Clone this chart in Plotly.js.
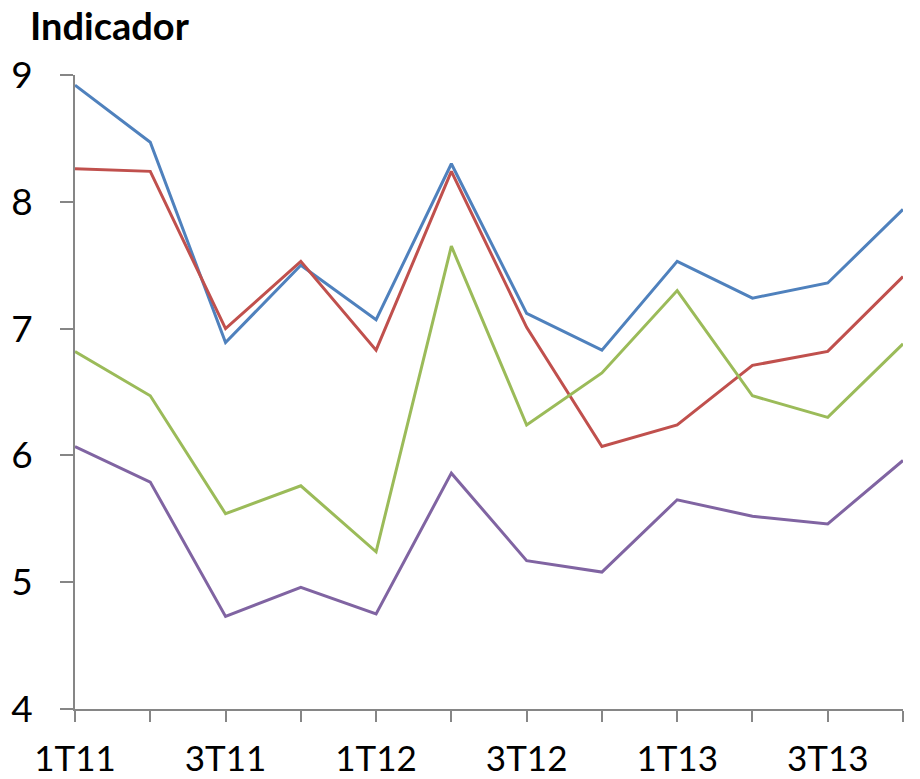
<!DOCTYPE html>
<html>
<head>
<meta charset="utf-8">
<script src="https://cdn.plot.ly/plotly-3.0.1.min.js"></script>
<style>
  html, body { margin: 0; padding: 0; background: #ffffff; }
  #chart { width: 920px; height: 779px; }
</style>
</head>
<body>
<div id="chart"></div>
<script>
const categories = ["1T11","2T11","3T11","4T11","1T12","2T12","3T12","4T12","1T13","2T13","3T13","4T13"];
const tickLabels = ["1T11","","3T11","","1T12","","3T12","","1T13","","3T13",""];
const serieAzul   = [8.92, 8.47, 6.89, 7.50, 7.07, 8.30, 7.12, 6.83, 7.53, 7.24, 7.36, 7.94];
const serieRoja   = [8.26, 8.24, 7.00, 7.53, 6.83, 8.24, 7.01, 6.07, 6.24, 6.71, 6.82, 7.41];
const serieVerde  = [6.82, 6.47, 5.54, 5.76, 5.24, 7.65, 6.24, 6.65, 7.30, 6.47, 6.30, 6.88];
const serieMorada = [6.07, 5.79, 4.73, 4.96, 4.75, 5.86, 5.17, 5.08, 5.65, 5.52, 5.46, 5.96];
const seriesNames = ["Serie 1", "Serie 2", "Serie 3", "Serie 4"];
const colors = ["#4F81BD", "#C0504D", "#9BBB59", "#8064A2"];

const allSeries = [serieAzul, serieRoja, serieVerde, serieMorada];
const traces = allSeries.map((vals, i) => ({
  type: "scatter",
  mode: "lines",
  x: categories.map((c, k) => k),
  y: vals,
  name: seriesNames[i],
  line: { color: colors[i], width: 3 },
  hoverinfo: "y"
}));

const layout = {
  width: 920,
  height: 779,
  paper_bgcolor: "#ffffff",
  plot_bgcolor: "#ffffff",
  showlegend: false,
  margin: { l: 75, r: 17, t: 75, b: 70 },
  font: { family: "Lato, 'Open Sans', sans-serif", color: "#000000" },
  title: {
    text: "<b>Indicador</b>",
    font: { family: "Lato, 'Open Sans', sans-serif", size: 38, color: "#000000" },
    xref: "container", yref: "container",
    x: 30 / 920, xanchor: "left",
    y: 1 - 27 / 779, yanchor: "middle"
  },
  xaxis: {
    range: [0, categories.length - 1],
    tickmode: "array",
    tickvals: categories.map((c, k) => k),
    ticktext: tickLabels,
    showgrid: false,
    zeroline: false,
    showline: true,
    linecolor: "#868686",
    linewidth: 2,
    ticks: "outside",
    ticklen: 11,
    tickwidth: 2,
    tickcolor: "#868686",
    ticklabelstandoff: 7,
    tickfont: { size: 35, family: "Lato, 'Open Sans', sans-serif", color: "#000000" },
    fixedrange: true
  },
  yaxis: {
    range: [4, 9],
    tickvals: [4, 5, 6, 7, 8, 9],
    showgrid: false,
    zeroline: false,
    showline: true,
    linecolor: "#868686",
    linewidth: 2,
    ticks: "outside",
    ticklen: 13,
    tickwidth: 2,
    tickcolor: "#868686",
    ticklabelstandoff: 20,
    tickfont: { size: 37, family: "Lato, 'Open Sans', sans-serif", color: "#000000" },
    fixedrange: true
  }
};

Plotly.newPlot("chart", traces, layout, { displayModeBar: false, staticPlot: true });
</script>
</body>
</html>
